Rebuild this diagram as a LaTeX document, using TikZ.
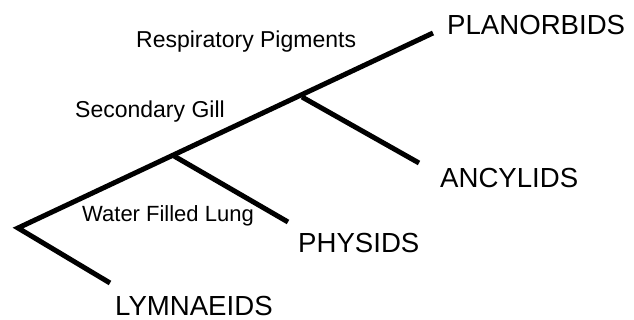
\documentclass[tikz,border=0pt]{standalone}
\usepackage{fontspec}
\setmainfont{Liberation Sans}
\begin{document}
\begin{tikzpicture}[x=1pt,y=-1pt,
  branch/.style={line width=5pt,line join=miter,line cap=butt},
  taxon/.style={anchor=base west,inner sep=0pt,font=\fontsize{27.6}{30}\selectfont},
  trait/.style={anchor=base west,inner sep=0pt,font=\fontsize{23}{26}\selectfont}]
\useasboundingbox (0,0) rectangle (634,320);
% branching points and tips of the tree
\coordinate (root) at (18,228);
\coordinate (n1) at (174,156);
\coordinate (n2) at (302,97);
\coordinate (lym) at (110,283);
\coordinate (phy) at (288,222);
\coordinate (anc) at (419,163);
\coordinate (pla) at (433,33);
% branches
\draw[branch] (lym) -- (root) -- (pla);
\draw[branch] (n1) -- (phy);
\draw[branch] (n2) -- (anc);
% taxa
\node[taxon] (tlym) at (115,315) {LYMNAEIDS};
\node[taxon] (tphy) at (298,253) {PHYSIDS};
\node[taxon] (tanc) at (440,188) {ANCYLIDS};
\node[taxon] (tpla) at (447,35) {PLANORBIDS};
% characters
\node[trait,font=\fontsize{22}{25}\selectfont] (wfl) at (82,222) {Water Filled Lung};
\node[trait] (sg) at (75,118) {Secondary Gill};
\node[trait] (rp) at (136,48) {Respiratory Pigments};
\end{tikzpicture}
\end{document}
